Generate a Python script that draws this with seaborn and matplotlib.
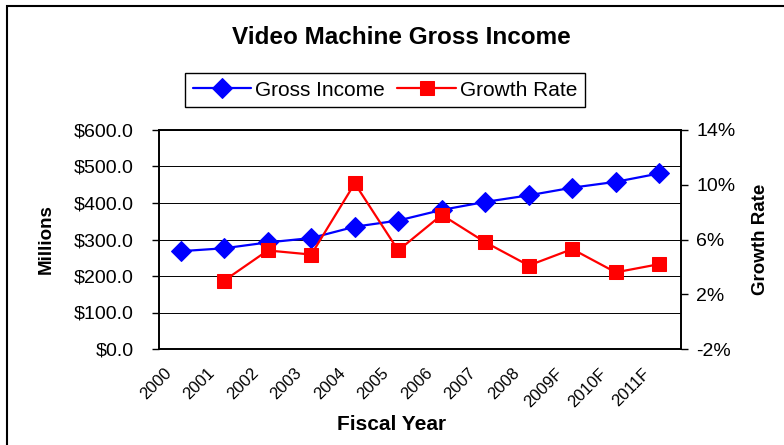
import numpy as np
import pandas as pd
import matplotlib.pyplot as plt
import seaborn as sns
from matplotlib.ticker import FixedLocator, FuncFormatter
from matplotlib.transforms import ScaledTranslation

years = ['2000', '2001', '2002', '2003', '2004', '2005', '2006',
         '2007', '2008', '2009F', '2010F', '2011F']
gross_income = [268, 276, 292, 304, 335, 352, 381, 403, 421, 442, 458, 481]
growth_rate = [np.nan, 3.0, 5.2, 4.9, 10.1, 5.2, 7.8, 5.8, 4.1, 5.3, 3.6, 4.2]

sns.set_style('white')
plt.rcParams['font.family'] = ['Liberation Sans', 'DejaVu Sans']
plt.rcParams['text.color'] = 'black'
plt.rcParams['axes.labelcolor'] = 'black'
plt.rcParams['xtick.color'] = 'black'
plt.rcParams['ytick.color'] = 'black'

df = pd.DataFrame({'year': years, 'income': gross_income, 'growth': growth_rate})
df['pos'] = np.arange(len(df)) + 0.5

fig = plt.figure(figsize=(7.84, 4.45), dpi=100)
ax = fig.add_axes([159 / 784, 1 - 349 / 445, 522 / 784, 219 / 445])
ax2 = ax.twinx()

sns.lineplot(data=df, x='pos', y='income', ax=ax, color='#0000FF', marker='D',
             markersize=10, markeredgecolor='#0000FF', linewidth=1.6,
             label='Gross Income', legend=False)
sns.lineplot(data=df, x='pos', y='growth', ax=ax2, color='#FF0000', marker='s',
             markersize=10.5, markeredgecolor='#FF0000', linewidth=1.6,
             label='Growth Rate', legend=False)

# left axis
ax.set_ylim(0, 600)
ax.set_yticks(np.arange(0, 601, 100))
ax.yaxis.set_major_formatter(FuncFormatter(lambda v, p: f'${v:.1f}'))
ax.grid(axis='y', color='black', linewidth=0.7)
ax.grid(axis='x', visible=False)

# category axis: labels at centres, ticks at boundaries
ax.set_xlim(0, len(years))
ax.xaxis.set_major_locator(FixedLocator(df['pos']))
ax.set_xticklabels(years, rotation=45, ha='right', rotation_mode='anchor')
ax.xaxis.set_minor_locator(FixedLocator(np.arange(len(years) + 1)))
ax.tick_params(axis='x', which='major', length=0, labelsize=12, pad=12)
ax.tick_params(axis='x', which='minor', length=5, width=1, direction='out', color='black')
ax.tick_params(axis='y', length=5, width=1, direction='out', color='black',
               labelsize=14, pad=13)
shift = ScaledTranslation(-17 / 100, 0, fig.dpi_scale_trans)
for lab in ax.get_xticklabels():
    lab.set_transform(lab.get_transform() + shift)

ax2.set_ylim(-2, 14)
ax2.set_yticks([-2, 2, 6, 10, 14])
ax2.yaxis.set_major_formatter(FuncFormatter(lambda v, p: f'{v:.0f}%'))
ax2.tick_params(axis='y', length=5, width=1, direction='out', color='black',
                labelsize=14, pad=6)
ax2.grid(False)

for a in (ax, ax2):
    for s in a.spines.values():
        s.set_color('black')
        s.set_linewidth(1.2)

ax.set_xlabel('Fiscal Year', fontsize=15, fontweight='bold')
ax.xaxis.set_label_coords(0.446, -0.30)
ax.set_ylabel('Millions', fontsize=13.5, fontweight='bold')
ax.yaxis.set_label_coords(-0.199, 0.5)
ax2.set_ylabel('Growth Rate', fontsize=13.5, fontweight='bold')
ax2.yaxis.set_label_coords(1.136, 0.5)

fig.text(401 / 784, 1 - 38 / 445, 'Video Machine Gross Income', ha='center',
         va='center', fontsize=17.5, fontweight='bold')

h1, l1 = ax.get_legend_handles_labels()
h2, l2 = ax2.get_legend_handles_labels()
fig.legend(h1 + h2, l1 + l2, loc='center', ncol=2,
           bbox_to_anchor=(385 / 784, 1 - 90 / 445), frameon=True, fancybox=False,
           edgecolor='black', fontsize=15, handlelength=2.8, handletextpad=0.2,
           columnspacing=0.6, borderpad=0.35, framealpha=1)

# outer chart border
fig.add_artist(plt.Rectangle((7 / 784, -0.1), 1.0, 1.1 - 6 / 445, transform=fig.transFigure,
                             fill=False, edgecolor='black', linewidth=1.5))

fig.savefig('out.png', dpi=100)
